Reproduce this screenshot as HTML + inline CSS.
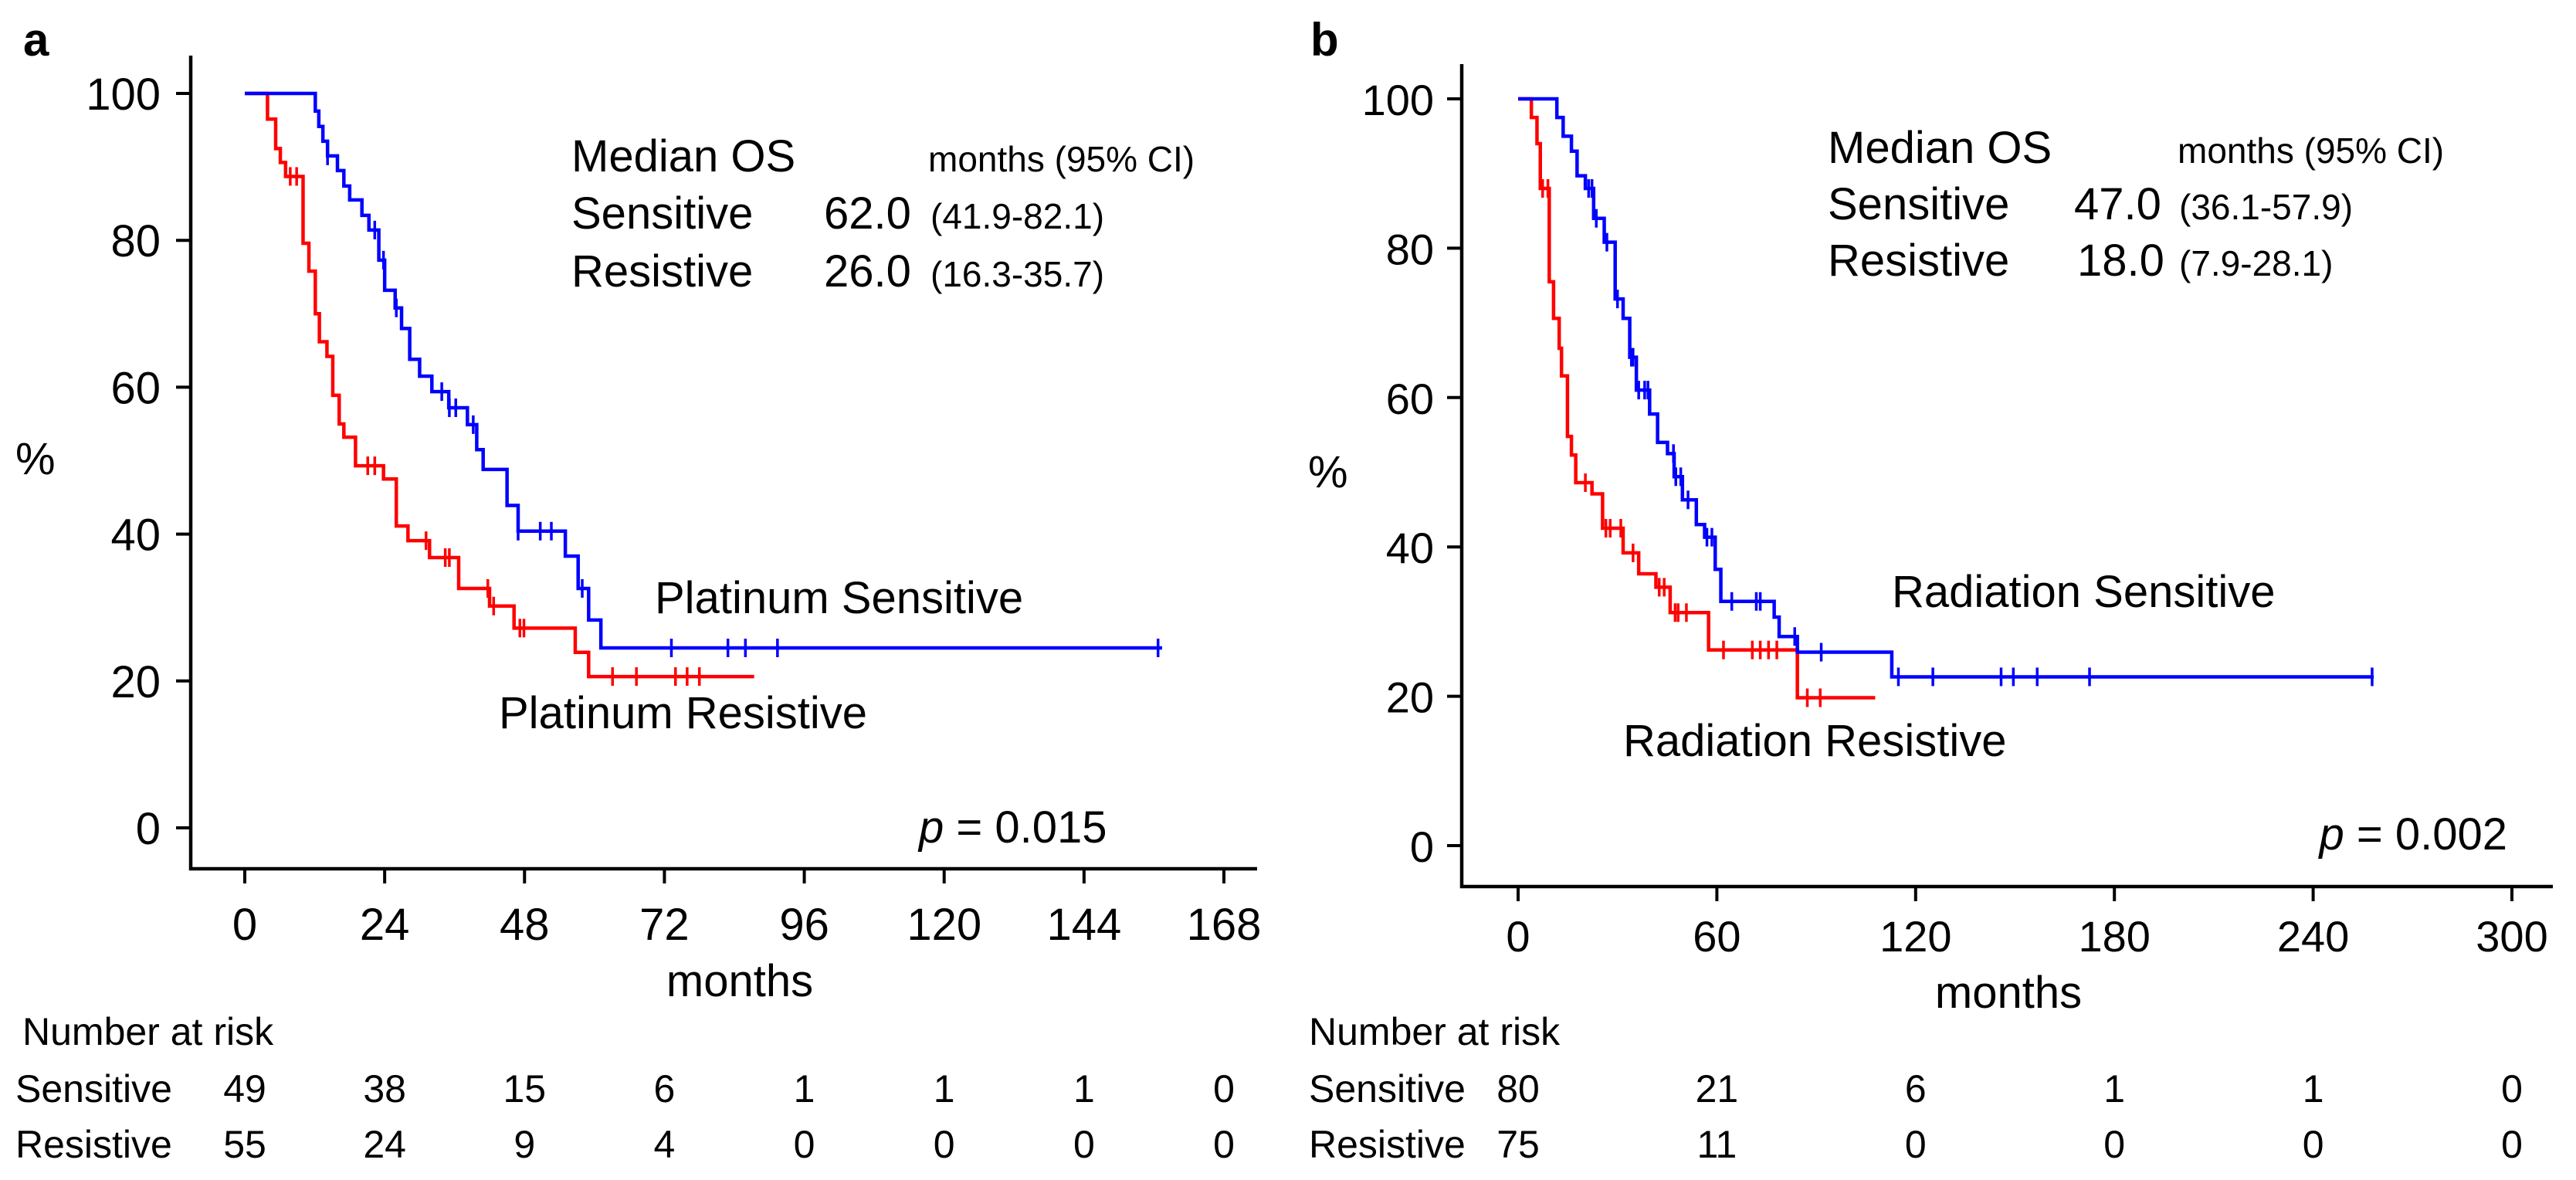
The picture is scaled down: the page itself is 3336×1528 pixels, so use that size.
<!DOCTYPE html>
<html><head><meta charset="utf-8"><style>
html,body{margin:0;padding:0;background:#fff;}
svg{display:block;font-family:"Liberation Sans",Arial,sans-serif;}
</style></head><body>
<svg id="fig" width="3336" height="1528" viewBox="0 0 3336 1528"></svg>
<script>
// ---- Panel a data (months, %)
const aTicksX = [0,24,48,72,96,120,144,168];
const aTicksY = [0,20,40,60,80,100];
const aSensT = [12.1,12.7,13.4,14.2,15.9,17.0,18.0,20.1,21.3,23.0,24.0,25.8,26.9,28.3,30.0,32.1,35.0,38.2,39.8,40.9,45.0,46.9,55.0,57.2,59.0,61.1,62.0];
const aSensS = [97.6,95.5,93.5,91.5,89.5,87.4,85.5,83.4,81.4,77.3,73.2,70.8,68.0,63.8,61.5,59.4,57.2,54.9,51.5,48.8,43.9,40.4,37.0,32.6,28.3,24.5,24.5];
const aSensCens = [14.2,22.3,23.8,26.0,33.8,35.1,36.2,39.2,46.9,50.7,52.6,57.9,73.2,82.9,85.9,91.4,156.7];
const aSensEnd = 157.4;
const aResT = [3.9,5.3,6.1,7.0,10.0,11.0,12.1,12.8,14.1,15.1,16.2,17.0,19.0,23.8,26.0,28.0,31.7,36.7,42.0,46.2,56.7,59.0];
const aResS = [96.5,92.5,90.6,88.7,79.6,75.8,70.0,66.2,64.2,58.9,55.0,53.2,49.3,47.5,41.1,39.1,36.8,32.6,30.2,27.2,23.9,20.6];
const aResCens = [7.8,8.9,21.1,22.3,31.1,34.4,35.1,41.7,42.7,47.2,47.9,63.1,67.2,73.9,75.9,78.0];
const aResEnd = 87.4;
const aRiskSens = [49,38,15,6,1,1,1,0];
const aRiskRes = [55,24,9,4,0,0,0,0];
// ---- Panel b data
const bTicksX = [0,60,120,180,240,300];
const bTicksY = [0,20,40,60,80,100];
const bSensT = [11.7,13.6,16.1,17.8,20.3,22.8,26.0,29.3,31.7,33.7,35.7,39.7,42.1,45.1,47.1,49.6,53.8,56.3,59.5,61.2,77.3,78.8,84.3,112.8];
const bSensS = [97.5,95.0,93.0,89.7,88.0,84.0,80.8,73.2,70.6,65.4,61.0,57.8,54.0,52.5,49.4,46.3,43.0,41.3,37.0,32.7,30.6,28.0,25.9,22.6];
const bSensCens = [21.3,22.3,23.6,26.8,30.0,34.2,34.7,36.4,38.2,39.2,46.9,47.6,49.1,51.3,57.0,58.5,64.5,71.9,73.1,83.5,91.5,114.8,125.2,145.8,149.5,156.7,172.5,257.8];
const bSensEnd = 258.3;
const bResT = [4.0,5.7,6.7,9.4,10.7,12.4,13.1,14.9,16.1,17.4,22.3,25.5,31.7,36.4,41.6,45.9,57.5,84.3];
const bResS = [97.5,94.0,88.0,75.5,70.6,66.6,62.9,54.8,52.3,48.6,47.1,42.5,39.2,36.4,34.6,31.2,26.2,19.8];
const bResCens = [7.4,9.0,20.3,26.5,27.8,31.0,34.7,42.6,44.1,47.4,48.3,50.8,62.0,70.7,73.1,75.6,78.1,87.3,91.2];
const bResEnd = 107.8;
const bRiskSens = [80,21,6,1,1,0];
const bRiskRes = [75,11,0,0,0,0];

const NS='http://www.w3.org/2000/svg';
const svg=document.getElementById('fig');
function el(tag,attrs,parent){const e=document.createElementNS(NS,tag);for(const k in attrs)e.setAttribute(k,attrs[k]);(parent||svg).appendChild(e);return e;}
function txt(s,x,y,size,anchor,parent,extra){const t=el('text',Object.assign({x:x,y:y,'font-size':size,'text-anchor':anchor||'start',fill:'#000'},extra||{}),parent);t.textContent=s;return t;}

function panel(cfg){
  const g=el('g',{});
  
  
  const X=v=>cfg.x0+v*cfg.xs, Y=v=>cfg.y0-v*cfg.ys;
  const ax=el('path',{d:`M${cfg.ax} ${cfg.axTop} V${cfg.axY} H${cfg.axRight}`,fill:'none',stroke:'#000','stroke-width':4.5},g);
  
  
  cfg.ticksY.forEach(v=>{
    const l=el('line',{x1:cfg.ax-19,x2:cfg.ax,y1:Y(v),y2:Y(v),stroke:'#000','stroke-width':4},g);
    
    
    const t=txt(String(v),cfg.yLabRight,Y(v)+21,cfg.tickFont,'end',g);
    
    
  });
  cfg.ticksX.forEach((v,i)=>{
    const l=el('line',{x1:X(v),x2:X(v),y1:cfg.axY,y2:cfg.axY+19,stroke:'#000','stroke-width':4},g);
    
    
    const t=txt(String(v),X(v),cfg.xLabBase,cfg.tickFont,'middle',g);
    
    
    const s=txt(String(cfg.riskS[i]),X(v),1427,50,'middle',g);
    
    
    const r=txt(String(cfg.riskR[i]),X(v),1499,50,'middle',g);
    
    
  });
  function curve(T,S,C,end,color,name){
    let d=`M${X(0)} ${Y(100)}`;
    T.forEach((t,i)=>{d+=` H${X(t)} V${Y(S[i])}`;});
    d+=` H${X(end)}`;
    const p=el('path',{d:d,fill:'none',stroke:color,'stroke-width':4.5},g);
    
    
    C.forEach(c=>{
      let s=100;T.forEach((t,i)=>{if(t<=c)s=S[i];});
      const m=el('line',{x1:X(c),x2:X(c),y1:Y(s)-12,y2:Y(s)+12,stroke:color,'stroke-width':3.5},g);
      
      
    });
  }
  curve(cfg.rT,cfg.rS,cfg.rC,cfg.rEnd,'#ff0000','resistive');
  curve(cfg.sT,cfg.sS,cfg.sC,cfg.sEnd,'#0000ff','sensitive');
  return g;
}

panel({name:'panel-a',x0:317,xs:(1585-317)/168,y0:1072,ys:9.51,ax:247,axTop:72,axY:1125,axRight:1628,
  ticksX:aTicksX,ticksY:aTicksY,yLabRight:208,xLabBase:1217,tickFont:58,riskS:aRiskSens,riskR:aRiskRes,
  sT:aSensT,sS:aSensS,sC:aSensCens,sEnd:aSensEnd,rT:aResT,rS:aResS,rC:aResCens,rEnd:aResEnd});
panel({name:'panel-b',x0:1966,xs:(3253-1966)/300,y0:1095,ys:9.67,ax:1893,axTop:83,axY:1148,axRight:3306,
  ticksX:bTicksX,ticksY:bTicksY,yLabRight:1857,xLabBase:1232,tickFont:56,riskS:bRiskSens,riskR:bRiskRes,
  sT:bSensT,sS:bSensS,sC:bSensCens,sEnd:bSensEnd,rT:bResT,rS:bResS,rC:bResCens,rEnd:bResEnd});
</script>
<script>
(function(){
const NS='http://www.w3.org/2000/svg';const svg=document.getElementById('fig');
function T(s,x,y,size,name,anchor,weight){const t=document.createElementNS(NS,'text');t.setAttribute('x',x);t.setAttribute('y',y);t.setAttribute('font-size',size);t.setAttribute('text-anchor',anchor||'start');if(weight)t.setAttribute('font-weight',weight);t.textContent=s;


svg.appendChild(t);return t;}
T('a',30,72,60,'panel-a-label','start','bold');
T('%',20,614,58,'y-axis-title-a');
T('months',958,1290,58,'x-axis-title-a','middle');
T('Median OS',740,222,58,'median-os-header-a');
T('months (95% CI)',1202,222,46,'median-os-units-a');
T('Sensitive',740,296,58,'median-sensitive-label-a');
T('62.0',1067,296,58,'median-sensitive-value-a');
T('(41.9-82.1)',1205,296,46,'median-sensitive-ci-a');
T('Resistive',740,371,58,'median-resistive-label-a');
T('26.0',1067,371,58,'median-resistive-value-a');
T('(16.3-35.7)',1205,371,46,'median-resistive-ci-a');
T('Platinum Sensitive',848,794,58,'legend-platinum-sensitive');
T('Platinum Resistive',646,943,58,'legend-platinum-resistive');
const pa=T('',1190,1091,58,'p-value-a');pa.innerHTML='<tspan font-style="italic">p</tspan> = 0.015';
T('Number at risk',29,1353,50,'risk-table-title-a');
T('Sensitive',20,1427,50,'risk-row-sensitive-a');
T('Resistive',20,1499,50,'risk-row-resistive-a');
T('b',1697,72,60,'panel-b-label','start','bold');
T('%',1694,631,58,'y-axis-title-b');
T('months',2601,1305,58,'x-axis-title-b','middle');
T('Median OS',2367,211,58,'median-os-header-b');
T('months (95% CI)',2820,211,46,'median-os-units-b');
T('Sensitive',2367,284,58,'median-sensitive-label-b');
T('47.0',2686,284,58,'median-sensitive-value-b');
T('(36.1-57.9)',2822,284,46,'median-sensitive-ci-b');
T('Resistive',2367,357,58,'median-resistive-label-b');
T('18.0',2690,357,58,'median-resistive-value-b');
T('(7.9-28.1)',2822,357,46,'median-resistive-ci-b');
T('Radiation Sensitive',2450,786,58,'legend-radiation-sensitive');
T('Radiation Resistive',2102,979,58,'legend-radiation-resistive');
const pb=T('',3247,1100,58,'p-value-b','end');pb.innerHTML='<tspan font-style="italic">p</tspan> = 0.002';
T('Number at risk',1695,1353,50,'risk-table-title-b');
T('Sensitive',1695,1427,50,'risk-row-sensitive-b');
T('Resistive',1695,1499,50,'risk-row-resistive-b');
})();
</script>
</body></html>
